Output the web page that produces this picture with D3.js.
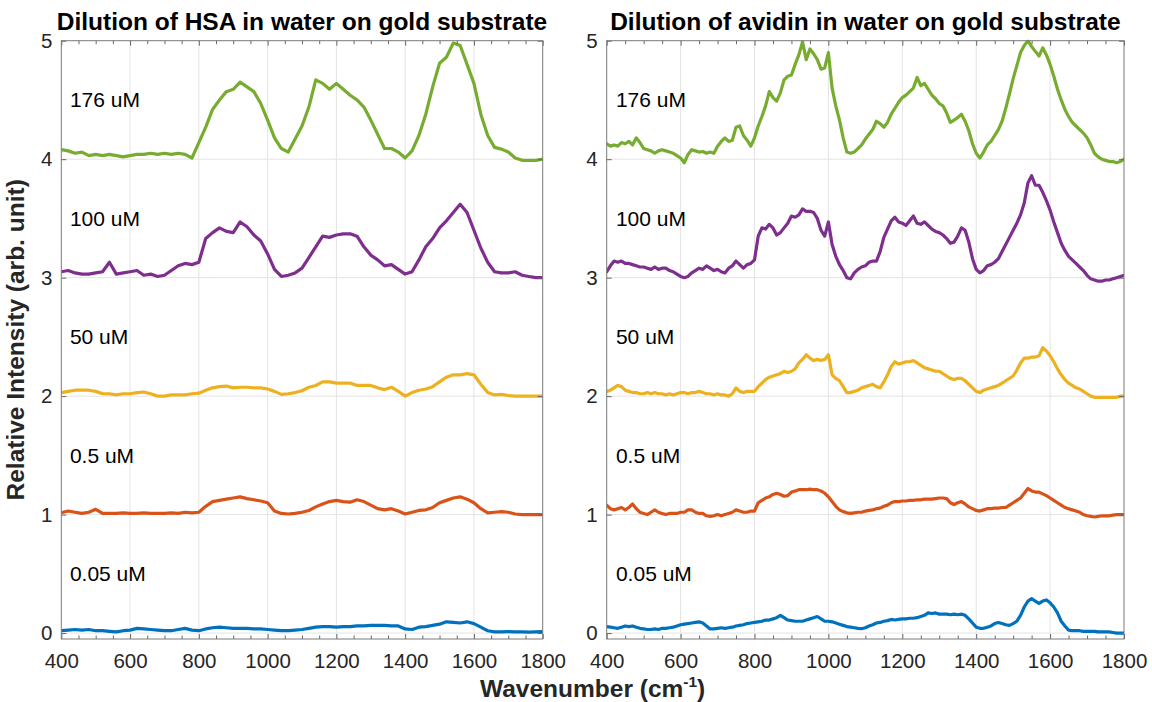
<!DOCTYPE html>
<html>
<head>
<meta charset="utf-8">
<script src="https://cdn.jsdelivr.net/npm/d3@7"></script>
<style>
  body { margin: 0; background: #fff; }
  svg { display: block; }
  text { font-family: "Liberation Sans", Arial, Helvetica, sans-serif; }
</style>
</head>
<body>
<svg id="chart" width="1152" height="702"></svg>
<script>
// Sampling grids (cm^-1)
const hsaWavenumbers = d3.range(400, 1801, 20);
const avidinWavenumbers = d3.range(400, 1801, 10);

const concentrations = ["0.05 uM", "0.5 uM", "50 uM", "100 uM", "176 uM"];
const seriesColors = ["#0072BD", "#D95319", "#EDB120", "#7E2F8E", "#77AC30"];
const xTickValues = [400, 600, 800, 1000, 1200, 1400, 1600, 1800];
const yTickValues = [0, 1, 2, 3, 4, 5];

// HSA spectra, offset by concentration (one value per 20 cm^-1)
const hsa005 = [
  0.02, 0.025, 0.03, 0.025, 0.03,
  0.02, 0.02, 0.015, 0.01, 0.02,
  0.025, 0.04, 0.035, 0.03, 0.025,
  0.02, 0.02, 0.03, 0.04, 0.025,
  0.02, 0.035, 0.045, 0.05, 0.045,
  0.04, 0.04, 0.04, 0.035, 0.035,
  0.03, 0.025, 0.02, 0.02, 0.025,
  0.03, 0.04, 0.05, 0.055, 0.055,
  0.05, 0.055, 0.055, 0.06, 0.06,
  0.065, 0.065, 0.065, 0.06, 0.06,
  0.035, 0.03, 0.05, 0.055, 0.065,
  0.075, 0.095, 0.09, 0.085, 0.095,
  0.08, 0.05, 0.02, 0.01, 0.01,
  0.012, 0.01, 0.01, 0.008, 0.01,
  0.012
];
const hsa05 = [
  1.015, 1.03, 1.02, 1.01, 1.02,
  1.045, 1.01, 1.01, 1.01, 1.015,
  1.01, 1.01, 1.015, 1.01, 1.01,
  1.01, 1.015, 1.01, 1.02, 1.015,
  1.02, 1.07, 1.11, 1.12, 1.13,
  1.14, 1.15, 1.135, 1.125, 1.115,
  1.10, 1.03, 1.01, 1.005, 1.01,
  1.02, 1.035, 1.065, 1.09, 1.11,
  1.12, 1.11, 1.105, 1.125, 1.11,
  1.08, 1.05, 1.04, 1.05, 1.03,
  1.005, 1.02, 1.035, 1.04, 1.06,
  1.10, 1.12, 1.14, 1.15, 1.13,
  1.10, 1.05, 1.015, 1.02, 1.025,
  1.02, 1.005, 1.00, 1.00, 1.00,
  1.00
];
const hsa50 = [
  2.03, 2.04, 2.05, 2.05, 2.05,
  2.04, 2.02, 2.02, 2.01, 2.02,
  2.02, 2.03, 2.035, 2.02, 2.00,
  2.00, 2.01, 2.01, 2.01, 2.02,
  2.025, 2.05, 2.07, 2.08, 2.085,
  2.07, 2.075, 2.075, 2.07, 2.07,
  2.06, 2.04, 2.015, 2.02, 2.03,
  2.045, 2.075, 2.09, 2.12, 2.12,
  2.11, 2.11, 2.11, 2.09, 2.09,
  2.09, 2.07, 2.055, 2.075, 2.04,
  2.00, 2.03, 2.05, 2.06, 2.08,
  2.12, 2.16, 2.18, 2.18, 2.19,
  2.18, 2.10, 2.03, 2.01, 2.015,
  2.005, 2.00, 2.00, 2.00, 2.00,
  2.00
];
const hsa100 = [
  3.05, 3.06, 3.04, 3.03, 3.03,
  3.04, 3.05, 3.13, 3.03, 3.04,
  3.05, 3.06, 3.02, 3.03, 3.01,
  3.02, 3.06, 3.10, 3.12, 3.11,
  3.13, 3.33, 3.38, 3.42, 3.39,
  3.38, 3.47, 3.43, 3.36, 3.31,
  3.20, 3.07, 3.01, 3.02, 3.04,
  3.08, 3.17, 3.26, 3.35, 3.34,
  3.36, 3.37, 3.37, 3.35, 3.26,
  3.19, 3.15, 3.10, 3.11, 3.07,
  3.03, 3.05, 3.15, 3.26, 3.33,
  3.42, 3.48, 3.55, 3.62, 3.55,
  3.40, 3.25, 3.13, 3.05, 3.04,
  3.04, 3.05, 3.02, 3.01, 3.00,
  3.00
];
const hsa176 = [
  4.08, 4.07, 4.05, 4.06, 4.03,
  4.04, 4.03, 4.04, 4.03, 4.02,
  4.03, 4.04, 4.04, 4.05, 4.04,
  4.05, 4.04, 4.05, 4.04, 4.01,
  4.14, 4.27, 4.42, 4.50, 4.57,
  4.59, 4.65, 4.61, 4.57, 4.47,
  4.33, 4.18, 4.09, 4.06, 4.17,
  4.28, 4.44, 4.67, 4.64, 4.59,
  4.64, 4.59, 4.54, 4.50, 4.44,
  4.33, 4.21, 4.09, 4.09, 4.06,
  4.01, 4.07, 4.20, 4.38, 4.61,
  4.81, 4.86, 4.98, 4.96, 4.80,
  4.64, 4.38, 4.20, 4.10, 4.085,
  4.06, 4.01, 3.99, 3.99, 3.99,
  4.00
];

// Avidin spectra, offset by concentration (one value per 10 cm^-1)
const avidin005 = [
  0.055, 0.05, 0.045, 0.04, 0.05, 0.06, 0.055, 0.06, 0.05, 0.04,
  0.035, 0.03, 0.03, 0.035, 0.03, 0.04, 0.04, 0.045, 0.05, 0.06,
  0.07, 0.075, 0.08, 0.085, 0.09, 0.095, 0.085, 0.06, 0.035, 0.035,
  0.04, 0.045, 0.04, 0.045, 0.05, 0.06, 0.065, 0.07, 0.08, 0.085,
  0.09, 0.095, 0.10, 0.11, 0.11, 0.12, 0.13, 0.15, 0.13, 0.11,
  0.105, 0.10, 0.10, 0.10, 0.11, 0.12, 0.13, 0.14, 0.12, 0.10,
  0.10, 0.095, 0.085, 0.075, 0.065, 0.055, 0.05, 0.045, 0.04, 0.037,
  0.045, 0.06, 0.07, 0.085, 0.09, 0.10, 0.105, 0.115, 0.11, 0.115,
  0.12, 0.12, 0.125, 0.125, 0.13, 0.14, 0.15, 0.17, 0.165, 0.17,
  0.16, 0.16, 0.16, 0.155, 0.16, 0.155, 0.16, 0.15, 0.12, 0.085,
  0.05, 0.04, 0.04, 0.05, 0.06, 0.08, 0.09, 0.08, 0.07, 0.065,
  0.08, 0.10, 0.15, 0.22, 0.27, 0.29, 0.27, 0.25, 0.27, 0.28,
  0.255, 0.22, 0.17, 0.10, 0.06, 0.025, 0.02, 0.02, 0.02, 0.015,
  0.015, 0.015, 0.015, 0.01, 0.01, 0.01, 0.01, 0.005, 0.0, 0.0,
  0.0
];
const avidin05 = [
  1.08, 1.05, 1.04, 1.05, 1.06, 1.04, 1.06, 1.09, 1.05, 1.02,
  1.01, 1.00, 1.02, 1.04, 1.02, 1.01, 1.00, 1.01, 1.01, 1.01,
  1.02, 1.02, 1.04, 1.04, 1.02, 1.01, 1.01, 0.99, 0.985, 0.99,
  1.00, 0.99, 1.00, 1.01, 1.02, 1.04, 1.03, 1.02, 1.02, 1.03,
  1.03, 1.10, 1.12, 1.14, 1.15, 1.17, 1.18, 1.17, 1.155, 1.16,
  1.19, 1.20, 1.21, 1.21, 1.21, 1.215, 1.21, 1.21, 1.20, 1.18,
  1.15, 1.11, 1.07, 1.04, 1.025, 1.015, 1.01, 1.015, 1.02, 1.02,
  1.03, 1.035, 1.04, 1.05, 1.055, 1.07, 1.08, 1.10, 1.11, 1.11,
  1.115, 1.115, 1.12, 1.12, 1.125, 1.125, 1.13, 1.13, 1.13, 1.135,
  1.14, 1.14, 1.135, 1.10, 1.085, 1.10, 1.11, 1.09, 1.065, 1.05,
  1.035, 1.03, 1.04, 1.05, 1.05, 1.055, 1.055, 1.06, 1.06, 1.08,
  1.10, 1.12, 1.14, 1.18, 1.22, 1.20, 1.19, 1.19, 1.175, 1.16,
  1.14, 1.12, 1.10, 1.08, 1.06, 1.05, 1.04, 1.03, 1.02, 1.00,
  0.99, 0.985, 0.98, 0.985, 0.99, 0.99, 0.99, 0.995, 1.00, 1.00,
  1.00
];
const avidin50 = [
  2.04, 2.05, 2.07, 2.09, 2.08, 2.05, 2.04, 2.03, 2.03, 2.02,
  2.02, 2.03, 2.02, 2.03, 2.02, 2.02, 2.01, 2.02, 2.01, 2.02,
  2.03, 2.03, 2.02, 2.03, 2.03, 2.04, 2.03, 2.02, 2.02, 2.01,
  2.02, 2.01, 2.01, 2.00, 2.02, 2.07, 2.04, 2.03, 2.04, 2.04,
  2.04, 2.08, 2.11, 2.14, 2.16, 2.17, 2.18, 2.19, 2.21, 2.20,
  2.21, 2.23, 2.28, 2.31, 2.35, 2.32, 2.30, 2.31, 2.30, 2.31,
  2.35, 2.18, 2.15, 2.13, 2.08, 2.03, 2.03, 2.04, 2.05, 2.07,
  2.08, 2.09, 2.10, 2.08, 2.07, 2.12, 2.18, 2.25, 2.29, 2.27,
  2.28, 2.29, 2.29, 2.30, 2.28, 2.26, 2.24, 2.23, 2.22, 2.21,
  2.21, 2.19, 2.17, 2.15, 2.14, 2.15, 2.15, 2.13, 2.10, 2.07,
  2.04, 2.03, 2.05, 2.06, 2.07, 2.08, 2.09, 2.11, 2.13, 2.15,
  2.17, 2.22, 2.28, 2.32, 2.32, 2.33, 2.33, 2.34, 2.41, 2.38,
  2.34, 2.29, 2.23, 2.18, 2.14, 2.11, 2.09, 2.07, 2.06, 2.04,
  2.02, 2.00, 1.99, 1.99, 1.99, 1.99, 1.99, 1.99, 1.99, 2.00,
  2.00
];
const avidin100 = [
  3.05, 3.10, 3.14, 3.13, 3.14, 3.12, 3.12, 3.11, 3.10, 3.09,
  3.09, 3.08, 3.07, 3.09, 3.07, 3.08, 3.08, 3.06, 3.05, 3.03,
  3.01, 3.00, 3.01, 3.04, 3.06, 3.08, 3.07, 3.10, 3.08, 3.06,
  3.07, 3.05, 3.04, 3.08, 3.10, 3.14, 3.11, 3.08, 3.11, 3.12,
  3.15, 3.35, 3.42, 3.41, 3.45, 3.42, 3.36, 3.38, 3.42, 3.46,
  3.52, 3.51, 3.53, 3.58, 3.56, 3.56, 3.55, 3.50, 3.40, 3.35,
  3.47, 3.28, 3.18, 3.11, 3.06, 3.00, 2.99, 3.04, 3.07, 3.09,
  3.10, 3.13, 3.14, 3.14, 3.22, 3.34, 3.41, 3.48, 3.51, 3.47,
  3.46, 3.44, 3.48, 3.52, 3.46, 3.45, 3.47, 3.44, 3.41, 3.39,
  3.38, 3.36, 3.33, 3.29, 3.30, 3.35, 3.42, 3.40, 3.30, 3.16,
  3.07, 3.04, 3.06, 3.10, 3.11, 3.13, 3.16, 3.22, 3.28, 3.34,
  3.40, 3.46, 3.53, 3.63, 3.80, 3.86, 3.78, 3.78, 3.72, 3.65,
  3.57, 3.47, 3.38, 3.29, 3.23, 3.18, 3.15, 3.12, 3.09, 3.06,
  3.02, 2.99, 2.98, 2.97, 2.97, 2.98, 2.98, 2.99, 3.00, 3.01,
  3.02
];
const avidin176 = [
  4.13, 4.11, 4.12, 4.11, 4.14, 4.13, 4.15, 4.12, 4.18, 4.14,
  4.09, 4.08, 4.07, 4.05, 4.07, 4.08, 4.07, 4.06, 4.05, 4.03,
  4.01, 3.97, 4.04, 4.08, 4.07, 4.06, 4.065, 4.05, 4.06, 4.05,
  4.11, 4.15, 4.18, 4.15, 4.16, 4.27, 4.28, 4.20, 4.16, 4.11,
  4.18, 4.28, 4.36, 4.45, 4.57, 4.52, 4.49, 4.56, 4.67, 4.70,
  4.71, 4.80, 4.88, 4.99, 4.84, 4.93, 4.89, 4.84, 4.76, 4.77,
  4.90, 4.60, 4.45, 4.33, 4.18, 4.06, 4.05, 4.06, 4.09, 4.12,
  4.17, 4.21, 4.25, 4.32, 4.30, 4.27, 4.31, 4.38, 4.43, 4.48,
  4.52, 4.54, 4.57, 4.60, 4.69, 4.62, 4.64, 4.59, 4.54, 4.51,
  4.47, 4.45, 4.39, 4.31, 4.33, 4.35, 4.38, 4.32, 4.24, 4.13,
  4.05, 4.01, 4.06, 4.12, 4.15, 4.20, 4.25, 4.32, 4.43, 4.55,
  4.68, 4.79, 4.90, 4.96, 5.00, 4.95, 4.91, 4.87, 4.94, 4.88,
  4.80, 4.70, 4.59, 4.50, 4.42, 4.36, 4.31, 4.28, 4.25, 4.22,
  4.18, 4.12, 4.05, 4.02, 4.00, 3.99, 3.98, 3.98, 3.97, 3.98,
  4.00
];

const panels = [
  {
    title: "Dilution of HSA in water on gold substrate",
    wavenumbers: hsaWavenumbers,
    series: [hsa005, hsa05, hsa50, hsa100, hsa176],
    left: 61.3, right: 542.7
  },
  {
    title: "Dilution of avidin in water on gold substrate",
    wavenumbers: avidinWavenumbers,
    series: [avidin005, avidin05, avidin50, avidin100, avidin176],
    left: 606.7, right: 1124
  }
];

const plotTop = 40.7, plotBottom = 639;
const svg = d3.select("#chart");
const minorTicks = d3.range(400, 1801, 50).filter(v => v % 200 !== 0);

const y = d3.scaleLinear().domain([-0.05, 5]).range([plotBottom, plotTop]);

panels.forEach((panel, pi) => {
  const x = d3.scaleLinear().domain([400, 1800]).range([panel.left, panel.right]);
  const g = svg.append("g");

  const clipId = "plot-clip-" + pi;
  svg.append("clipPath").attr("id", clipId)
    .append("rect")
    .attr("x", panel.left).attr("y", plotTop - 1)
    .attr("width", panel.right - panel.left).attr("height", plotBottom - plotTop + 1);

  // grid
  g.append("g").selectAll("line").data(xTickValues.slice(1, -1)).join("line")
    .attr("x1", d => x(d)).attr("x2", d => x(d))
    .attr("y1", plotTop).attr("y2", plotBottom)
    .attr("stroke", "#e3e3e3").attr("stroke-width", 1);
  g.append("g").selectAll("line").data(yTickValues.slice(0, -1)).join("line")
    .attr("x1", panel.left).attr("x2", panel.right)
    .attr("y1", d => y(d)).attr("y2", d => y(d))
    .attr("stroke", "#e3e3e3").attr("stroke-width", 1);

  // spectra
  const line = d3.line()
    .x((d, i) => x(panel.wavenumbers[i]))
    .y(d => y(d));
  g.append("g").attr("clip-path", `url(#${clipId})`)
    .selectAll("path").data(panel.series).join("path")
    .attr("d", d => line(d))
    .attr("fill", "none")
    .attr("stroke", (d, i) => seriesColors[i])
    .attr("stroke-width", 3.2)
    .attr("stroke-linejoin", "round")
    .attr("stroke-linecap", "round");

  // concentration labels
  g.append("g").selectAll("text").data(concentrations).join("text")
    .attr("x", x(425))
    .attr("y", (d, i) => y(i + 0.5))
    .attr("dy", "0.36em")
    .attr("font-size", 21)
    .attr("fill", "#000")
    .text(d => d);

  // axes (ticks point inward)
  const styleAxis = sel => {
    sel.select(".domain").remove();
    sel.selectAll(".tick line").attr("stroke", "#666");
    sel.selectAll(".tick text").attr("fill", "#262626").attr("font-size", 20.5)
      .attr("font-family", '"Liberation Sans", Arial, sans-serif');
  };
  g.append("g").attr("transform", `translate(0,${plotBottom})`)
    .call(d3.axisBottom(x).tickValues(xTickValues).tickSize(-5).tickPadding(14).tickFormat(d3.format("d")))
    .call(styleAxis);
  g.append("g").attr("transform", `translate(0,${plotBottom})`)
    .call(d3.axisBottom(x).tickValues(minorTicks).tickSize(-3.5).tickFormat(""))
    .call(styleAxis);
  g.append("g").attr("transform", `translate(0,${plotTop})`)
    .call(d3.axisTop(x).tickValues(xTickValues).tickSize(-5).tickFormat(""))
    .call(styleAxis);
  g.append("g").attr("transform", `translate(0,${plotTop})`)
    .call(d3.axisTop(x).tickValues(minorTicks).tickSize(-3.5).tickFormat(""))
    .call(styleAxis);
  g.append("g").attr("transform", `translate(${panel.left},0)`)
    .call(d3.axisLeft(y).tickValues(yTickValues).tickSize(-5).tickPadding(9).tickFormat(d3.format("d")))
    .call(styleAxis);
  g.append("g").attr("transform", `translate(${panel.right},0)`)
    .call(d3.axisRight(y).tickValues(yTickValues).tickSize(-5).tickFormat(""))
    .call(styleAxis);

  // frame
  g.append("rect")
    .attr("x", panel.left).attr("y", plotTop)
    .attr("width", panel.right - panel.left).attr("height", plotBottom - plotTop)
    .attr("fill", "none").attr("stroke", "#7a7a7a").attr("stroke-width", 1);

  // title
  g.append("text")
    .attr("x", (panel.left + panel.right) / 2).attr("y", 30)
    .attr("text-anchor", "middle")
    .attr("font-size", 24.5).attr("font-weight", "bold").attr("fill", "#000")
    .text(panel.title);
});

// shared axis titles
svg.append("text")
  .attr("transform", `translate(24,${(plotTop + plotBottom) / 2}) rotate(-90)`)
  .attr("text-anchor", "middle")
  .attr("font-size", 24.5).attr("font-weight", "bold").attr("fill", "#262626")
  .text("Relative Intensity (arb. unit)");

const xTitle = svg.append("text")
  .attr("x", (panels[0].left + panels[1].right) / 2).attr("y", 697)
  .attr("text-anchor", "middle")
  .attr("font-size", 24.5).attr("font-weight", "bold").attr("fill", "#262626");
xTitle.append("tspan").text("Wavenumber (cm");
xTitle.append("tspan").attr("font-size", 15.5).attr("dy", -10).text("-1");
xTitle.append("tspan").attr("dy", 10).text(")");
</script>
</body>
</html>
